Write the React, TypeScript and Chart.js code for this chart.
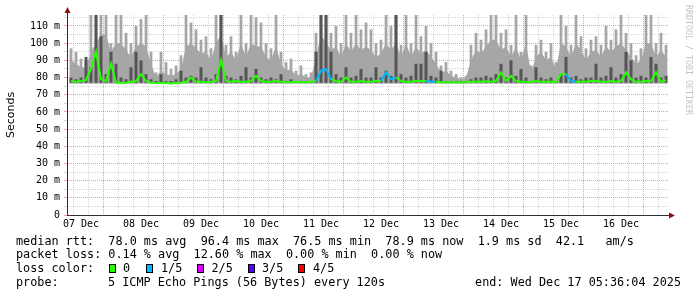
import React, { useEffect, useRef } from 'react';
import { Chart, registerables } from 'chart.js';

Chart.register(...registerables);

// ---- time axis (hours since 07 Dec 00:00) ----
const START_HOUR = 8;
const STEP_HOURS = 2;
const X_MIN = 6.4;
const X_MAX = 247.2;
const FIRST_GRID_HOUR = 12;
const LAST_GRID_HOUR = 246;
const GRID_STEP_HOURS = 6;
const DAY_LABELS = ['07 Dec', '08 Dec', '09 Dec', '10 Dec', '11 Dec', '12 Dec', '13 Dec', '14 Dec', '15 Dec', '16 Dec'];

// ---- value axis (ms) ----
const Y_MAX = 116.4;
const Y_LABELS = ['0', '10 m', '20 m', '30 m', '40 m', '50 m', '60 m', '70 m', '80 m', '90 m', '100 m', '110 m'];

// ---- series (ms), one value per 2 hours ----
// highest ping of each interval (spikes)
const smokeMax = [
  97, 95, 91, 90, 125, 125, 125, 125, 100, 125,
  125, 106, 100, 110, 114, 125, 95, 83, 95, 89,
  85, 87, 93, 125, 112, 108, 102, 104, 97, 125,
  125, 99, 104, 95, 125, 100, 125, 115, 112, 100,
  97, 125, 95, 89, 91, 84, 87, 82, 83, 106,
  125, 125, 106, 110, 100, 125, 106, 125, 108, 112,
  108, 100, 102, 125, 110, 125, 99, 125, 100, 125,
  104, 110, 100, 95, 87, 89, 84, 82, 80, 81,
  99, 106, 102, 108, 125, 125, 106, 108, 99, 120,
  95, 125, 87, 99, 102, 95, 100, 89, 125, 110,
  99, 125, 104, 97, 102, 104, 99, 110, 102, 108,
  125, 106, 100, 93, 97, 125, 125, 100, 106, 99,
];
// upper body of the smoke (dense part)
const smokeBody = [
  90, 88, 86, 86, 95, 100, 105, 105, 95, 100,
  100, 96, 92, 98, 100, 98, 88, 80, 84, 82,
  81, 82, 85, 98, 100, 97, 94, 95, 90, 100,
  105, 92, 95, 90, 100, 92, 100, 98, 98, 92,
  90, 98, 88, 84, 85, 81, 82, 80, 80, 92,
  105, 100, 96, 98, 92, 100, 95, 100, 96, 98,
  96, 92, 94, 100, 96, 100, 92, 100, 92, 98,
  94, 96, 92, 88, 83, 84, 81, 80, 79, 80,
  90, 96, 94, 98, 102, 102, 96, 98, 92, 98,
  90, 100, 83, 92, 95, 90, 92, 85, 100, 98,
  92, 100, 96, 90, 95, 96, 92, 98, 95, 98,
  100, 96, 92, 88, 90, 100, 100, 92, 96, 92,
];
// inner pings (dark streaks)
const smokeDark = [
  80, 79, 80, 92, 86, 125, 104, 82, 95, 88,
  80, 79, 86, 95, 90, 82, 79, 78, 82, 78,
  78, 79, 84, 80, 81, 80, 86, 80, 79, 82,
  125, 81, 80, 79, 81, 86, 80, 85, 80, 79,
  80, 79, 82, 78, 79, 78, 78, 78, 78, 95,
  125, 125, 95, 82, 80, 86, 80, 81, 85, 80,
  80, 86, 80, 84, 81, 125, 82, 80, 81, 88,
  88, 95, 81, 80, 84, 78, 78, 78, 78, 78,
  79, 80, 80, 81, 80, 82, 88, 80, 90, 81,
  85, 80, 78, 86, 80, 79, 80, 78, 82, 92,
  80, 81, 79, 80, 80, 88, 80, 81, 86, 80,
  82, 95, 90, 80, 81, 80, 92, 88, 80, 81,
];
const medianRtt = [
  78, 77.5, 78, 78.5, 85, 95, 79, 78, 88, 77,
  77, 77, 77.5, 78, 82, 78, 77, 76.8, 76.8, 76.8,
  76.6, 76.8, 77, 77.5, 80, 77.5, 77.5, 77.3, 77.5, 78,
  90, 78, 77.5, 78, 77.5, 77.5, 78, 81, 78, 77.5,
  77.5, 78, 77.5, 77.3, 77.3, 77.5, 77.3, 77.3, 77.5, 78,
  84, 85, 79, 78, 77.5, 80, 77.5, 77.5, 78, 77.5,
  77.5, 78, 78, 83, 79, 80, 78, 77.5, 77.5, 78,
  78, 78, 77.5, 77.5, 77.3, 77.3, 77.3, 77.2, 77.2, 77.3,
  77.5, 77.5, 77.5, 77.8, 77.5, 78, 83, 78, 81, 78,
  77.5, 77.5, 77.3, 78, 77.5, 77.5, 77.5, 77.3, 82, 82,
  78, 77.5, 77.5, 77.5, 78, 78, 77.5, 77.5, 78, 77.5,
  78, 83, 79, 77.5, 77.5, 78, 78, 83, 77.5, 78.5,
];
const lossPings = [
  0, 0, 0, 0, 0, 0, 0, 0, 0, 0,
  0, 0, 0, 0, 0, 0, 0, 0, 0, 0,
  0, 0, 0, 0, 0, 0, 0, 0, 0, 0,
  0, 0, 0, 0, 0, 0, 0, 0, 0, 0,
  0, 0, 0, 0, 0, 0, 0, 0, 0, 0,
  1, 1, 0, 0, 0, 0, 0, 0, 0, 0,
  0, 0, 0, 1, 1, 0, 0, 0, 0, 0,
  0, 0, 1, 0, 0, 0, 0, 0, 0, 0,
  0, 0, 0, 0, 0, 0, 0, 0, 0, 0,
  0, 0, 0, 0, 0, 0, 0, 0, 0, 0,
  1, 0, 0, 0, 0, 0, 0, 0, 0, 0,
  0, 0, 0, 0, 0, 0, 0, 0, 0, 0,
];
const SMOKE_LOW = 76.5;
const DARK_LOW = 77;

// ---- legend ----
const LOSS_LABELS = ['0', '1/5', '2/5', '3/5', '4/5'];
const LOSS_COLORS = ['#26ff00', '#00b8ff', '#d600ff', '#5a00ff', '#ff0000'];
const LEGEND_RTT = 'median rtt:  78.0 ms avg  96.4 ms max  76.5 ms min  78.9 ms now  1.9 ms sd  42.1   am/s';
const LEGEND_LOSS = 'packet loss: 0.14 % avg  12.60 % max  0.00 % min  0.00 % now';
const LEGEND_COLOR_TITLE = 'loss color:';
const PROBE_TITLE = 'probe:';
const PROBE_TEXT = '5 ICMP Echo Pings (56 Bytes) every 120s';
const END_TEXT = 'end: Wed Dec 17 05:36:04 2025';
const WATERMARK = 'RRDTOOL / TOBI OETIKER';
const Y_TITLE = 'Seconds';

const MONO = "'DejaVu Sans Mono', monospace";
const MAJOR_GRID = 'rgba(225,60,60,0.5)';
const MINOR_GRID = 'rgba(140,140,140,0.35)';
const SMOKE_COLOR = '#a6a6a6';
const DARK_COLOR = '#555555';

const overlayPlugin = {
  id: 'overlay',
  afterDraw(chart: any) {
    const ctx: CanvasRenderingContext2D = chart.ctx;
    const { left, right, bottom } = chart.chartArea;
    ctx.save();
    // axes
    ctx.strokeStyle = '#303030';
    ctx.lineWidth = 1;
    ctx.beginPath();
    ctx.moveTo(left + 0.5, bottom + 0.5);
    ctx.lineTo(left + 0.5, 12);
    ctx.moveTo(left, bottom + 0.5);
    ctx.lineTo(right + 1, bottom + 0.5);
    ctx.stroke();
    ctx.fillStyle = '#8a1010';
    ctx.beginPath();
    ctx.moveTo(left + 0.5, 7);
    ctx.lineTo(left - 2.5, 13);
    ctx.lineTo(left + 3.5, 13);
    ctx.closePath();
    ctx.fill();
    ctx.beginPath();
    ctx.moveTo(right + 6, bottom + 0.5);
    ctx.lineTo(right, bottom - 2.5);
    ctx.lineTo(right, bottom + 3.5);
    ctx.closePath();
    ctx.fill();

    // y title
    ctx.save();
    ctx.translate(11, 115);
    ctx.rotate(-Math.PI / 2);
    ctx.fillStyle = '#000';
    ctx.font = "11px 'DejaVu Sans', sans-serif";
    ctx.textAlign = 'center';
    ctx.textBaseline = 'middle';
    ctx.fillText(Y_TITLE, 0, 0);
    ctx.restore();

    // watermark
    ctx.save();
    ctx.translate(688, 5);
    ctx.rotate(Math.PI / 2);
    ctx.fillStyle = '#c4c4c4';
    ctx.font = `8.3px ${MONO}`;
    ctx.textAlign = 'left';
    ctx.textBaseline = 'middle';
    ctx.fillText(WATERMARK, 0, 0);
    ctx.restore();

    // legend
    ctx.fillStyle = '#000';
    ctx.font = `11.8px ${MONO}`;
    ctx.textBaseline = 'middle';
    ctx.textAlign = 'left';
    ctx.fillText(LEGEND_RTT, 16, 241.5);
    ctx.fillText(LEGEND_LOSS, 16, 255.2);
    ctx.fillText(LEGEND_COLOR_TITLE, 16, 269);
    const boxX = [109, 146, 197, 248, 298];
    const textX = [123, 161, 211.5, 262, 313];
    LOSS_LABELS.forEach((lab, i) => {
      ctx.fillStyle = LOSS_COLORS[i];
      ctx.fillRect(boxX[i], 264, 7, 9);
      ctx.strokeStyle = '#000';
      ctx.strokeRect(boxX[i] + 0.5, 264.5, 6, 8);
      ctx.fillStyle = '#000';
      ctx.fillText(lab, textX[i], 269);
    });
    ctx.fillText(PROBE_TITLE, 16, 282.7);
    ctx.fillText(PROBE_TEXT, 108, 282.7);
    ctx.textAlign = 'right';
    ctx.fillText(END_TEXT, 681, 282.7);
    ctx.restore();
  },
};

export default function App() {
  const ref = useRef<HTMLCanvasElement>(null);
  useEffect(() => {
    document.body.style.margin = '0';
    const hours = smokeMax.map((_, i) => START_HOUR + i * STEP_HOURS);
    const gridHours: number[] = [];
    for (let h = FIRST_GRID_HOUR; h <= LAST_GRID_HOUR; h += GRID_STEP_HOURS) gridHours.push(h);
    const yTicks: number[] = [];
    for (let v = 0; v < Y_MAX; v += 5) yTicks.push(v);

    const chart = new Chart(ref.current as HTMLCanvasElement, {
      type: 'line',
      data: {
        datasets: [
          {
            type: 'line',
            label: 'median',
            data: hours.map((h, i) => ({ x: h, y: medianRtt[i] })),
            borderColor: LOSS_COLORS[0],
            borderWidth: 2,
            pointRadius: 0,
            tension: 0,
            fill: false,
            order: 0,
            segment: {
              borderColor: (c: any) =>
                LOSS_COLORS[Math.max(lossPings[c.p0DataIndex], lossPings[c.p1DataIndex])] || LOSS_COLORS[0],
            },
          } as any,
          {
            type: 'bar',
            label: 'smoke dark',
            data: hours.map((h, i) => ({ x: h, y: [DARK_LOW, smokeDark[i]] })),
            backgroundColor: DARK_COLOR,
            borderWidth: 0,
            grouped: false,
            barPercentage: 0.6,
            categoryPercentage: 1,
            order: 1,
          } as any,
          {
            type: 'bar',
            label: 'smoke max',
            data: hours.map((h, i) => ({ x: h, y: [SMOKE_LOW, smokeMax[i]] })),
            backgroundColor: SMOKE_COLOR,
            borderWidth: 0,
            grouped: false,
            barPercentage: 0.55,
            categoryPercentage: 1,
            order: 2,
          } as any,
          {
            type: 'line',
            label: 'smoke body',
            data: hours.map((h, i) => ({ x: h, y: smokeBody[i] })),
            borderWidth: 0,
            pointRadius: 0,
            tension: 0,
            backgroundColor: SMOKE_COLOR,
            fill: { target: { value: SMOKE_LOW } },
            order: 3,
          } as any,
        ],
      },
      options: {
        animation: false,
        responsive: false,
        devicePixelRatio: 1,
        events: [],
        layout: { padding: { top: 15, right: 28, left: 0, bottom: 0 } },
        plugins: { legend: { display: false }, tooltip: { enabled: false } },
        scales: {
          x: {
            type: 'linear',
            min: X_MIN,
            max: X_MAX,
            offset: false,
            z: 1,
            afterBuildTicks: (s: any) => {
              s.ticks = gridHours.map((v) => ({ value: v }));
            },
            afterFit: (s: any) => {
              s.height = 82;
            },
            grid: {
              color: (c: any) => (c.tick && c.tick.value % 24 === 0 ? MAJOR_GRID : MINOR_GRID),
              lineWidth: 1,
              drawTicks: false,
            },
            border: { display: false, dash: [1, 1] },
            ticks: {
              autoSkip: false,
              maxRotation: 0,
              padding: 3,
              color: '#000',
              font: { family: MONO, size: 10 },
              callback: (v: any) => ((v - 12) % 24 === 0 ? DAY_LABELS[(v - 12) / 24] : ''),
            },
          },
          y: {
            type: 'linear',
            min: 0,
            max: Y_MAX,
            z: 1,
            afterBuildTicks: (s: any) => {
              s.ticks = yTicks.map((v) => ({ value: v }));
            },
            afterFit: (s: any) => {
              s.width = 67;
            },
            grid: {
              color: (c: any) => (c.tick && c.tick.value % 10 === 0 ? MAJOR_GRID : MINOR_GRID),
              lineWidth: 1,
              drawTicks: true,
              tickLength: 3,
            },
            border: { display: false, dash: [1, 1] },
            ticks: {
              autoSkip: false,
              padding: 4,
              color: '#000',
              font: { family: MONO, size: 10 },
              callback: (v: any) => (v % 10 === 0 ? Y_LABELS[v / 10] : ''),
            },
          },
        },
      } as any,
      plugins: [overlayPlugin],
    });
    return () => chart.destroy();
  }, []);
  return (
    <div style={{ position: 'absolute', left: 0, top: 0, width: 697, height: 297, background: '#fff' }}>
      <canvas ref={ref} width={697} height={297} style={{ display: 'block', width: 697, height: 297 }} />
    </div>
  );
}
